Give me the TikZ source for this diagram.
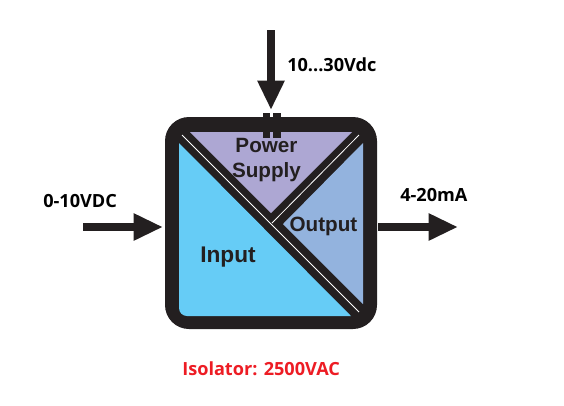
\documentclass[tikz,border=0pt]{standalone}
\usepackage{fontspec}
\setmainfont{Liberation Sans}
\newfontfamily\labelfont{Open Sans}
\usepackage{xcolor}
\definecolor{bandblack}{HTML}{231F20}
\definecolor{softinput}{HTML}{66CCF6}
\definecolor{softsupply}{HTML}{ADA7D3}
\definecolor{softoutput}{HTML}{93B3DE}
\definecolor{notered}{HTML}{ED1C24}
\usetikzlibrary{arrows.meta,positioning,calc}

\begin{document}
\begin{tikzpicture}[
  x=0.75pt,y=-0.75pt,
  zonetext/.style={inner sep=0pt,text=bandblack,font=\fontsize{15.5}{18.75}\selectfont\bfseries,align=center},
  signal/.style={inner sep=0pt,text=black,font=\labelfont\fontsize{13.6}{16}\selectfont\bfseries},
  arrow/.style={-{Triangle[length=22pt,width=19pt]},line width=6pt,draw=bandblack},
  clip pin/.style={fill=bandblack,inner sep=0pt,minimum width=5.6pt,minimum height=18.5pt},
  seam/.style={draw=white,line width=0.6pt}
]
\useasboundingbox (0,0) rectangle (564,405);
% housing and the three zones
\fill[bandblack,rounded corners=18pt] (165,117) rectangle (377,329);
\fill[softinput] (179,143) [rounded corners=6pt] -- (179,316) [sharp corners] -- (351,316) -- cycle;
\fill[softsupply] (190,132) -- (352,132) -- (271,213) -- cycle;
\fill[softoutput] (363,143) -- (363,304) -- (283,224) -- cycle;
\draw[seam] (182,135) -- (359,312);
\draw[seam] (272,223) -- (359,135);
% pins on top
\node[clip pin] (pinl) at (266.5,125.5) {};
\node[clip pin] (pinr) at (277,125.5) {};
% zone names
\node[zonetext] (supply) at (266.5,160.5) {Power\\Supply};
\node[zonetext] (output) at (323.5,226) {Output};
\node[zonetext,font=\fontsize{17}{20}\selectfont\bfseries] (input) at (228,257) {Input};
% signals
\coordinate (top) at (271,30);
\coordinate (topend) at (271,110);
\coordinate (left) at (83,227);
\coordinate (leftend) at (163,227);
\coordinate (right) at (378,227);
\coordinate (rightend) at (458,227);
\draw[arrow] (top) -- (topend);
\draw[arrow] (left) -- (leftend);
\draw[arrow] (right) -- (rightend);
\node[signal,anchor=west] (volt) at (287,65) {10...30Vdc};
\node[signal,anchor=west] (insig) at (43,201) {0-10VDC};
\node[signal,anchor=west] (outsig) at (400,195) {4-20mA};
\node[signal,anchor=west,text=notered] (iso) at (182,369) {Isolator: 2500VAC};
\end{tikzpicture}
\end{document}
